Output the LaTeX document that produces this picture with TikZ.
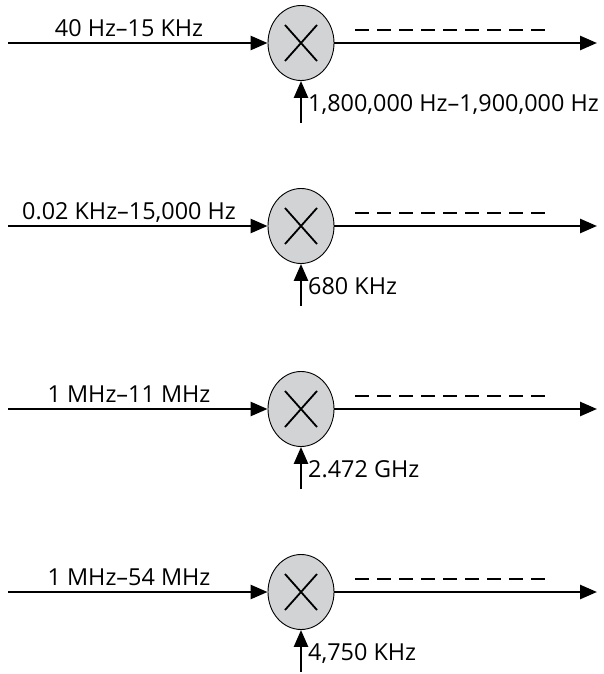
\documentclass[tikz,border=0pt]{standalone}
\usepackage{fontspec}
\setmainfont{Open Sans}
\usetikzlibrary{positioning,arrows.meta,shapes}
\definecolor{mixgray}{HTML}{D1D3D4}

\begin{document}
\begin{tikzpicture}[x=1pt,y=-1pt,
      >={Triangle[length=17pt,width=14pt]},
      sig/.style={line width=2.6pt},
      mixer/.style={draw,ellipse,fill=mixgray,line width=0.9pt,minimum width=66pt,minimum height=75pt,inner sep=0pt,
        path picture={\draw[line width=1.8pt]
          ([shift={(-16pt,-18pt)}]path picture bounding box.center) -- ([shift={(16pt,18pt)}]path picture bounding box.center)
          ([shift={(-16pt,18pt)}]path picture bounding box.center) -- ([shift={(16pt,-18pt)}]path picture bounding box.center);}},
      dashline/.style={line width=1.4pt,dash pattern=on 14pt off 8pt},
      lbl/.style={font=\fontsize{23.4}{27}\selectfont,inner sep=0pt}]
    \useasboundingbox (0,0) rectangle (604,674);
    % row 1
    \coordinate (in1) at (8,43);
    \node[mixer] (mix1) at (301,43) {};
    \coordinate (out1) at (597,43);
    \coordinate (lo1) at (301,123);
    \coordinate (da1) at (355,30);
    \coordinate (db1) at (545,30);
    \node[lbl,anchor=base] (rf1) at (129,36.5) {40 Hz–15 KHz};
    \node[lbl,anchor=base west] (fl1) at (308,111) {1,800,000 Hz–1,900,000 Hz};
    \draw[sig,->] (in1) -- (mix1);
    \draw[sig,->] (mix1) -- (out1);
    \draw[sig,->] (lo1) -- (mix1);
    \draw[dashline] (da1) -- (db1);
    % row 2
    \coordinate (in2) at (8,226);
    \node[mixer] (mix2) at (301,226) {};
    \coordinate (out2) at (597,226);
    \coordinate (lo2) at (301,306);
    \coordinate (da2) at (355,213);
    \coordinate (db2) at (545,213);
    \node[lbl,anchor=base] (rf2) at (129,219.5) {0.02 KHz–15,000 Hz};
    \node[lbl,anchor=base west] (fl2) at (308,294) {680 KHz};
    \draw[sig,->] (in2) -- (mix2);
    \draw[sig,->] (mix2) -- (out2);
    \draw[sig,->] (lo2) -- (mix2);
    \draw[dashline] (da2) -- (db2);
    % row 3
    \coordinate (in3) at (8,409);
    \node[mixer] (mix3) at (301,409) {};
    \coordinate (out3) at (597,409);
    \coordinate (lo3) at (301,489);
    \coordinate (da3) at (355,396);
    \coordinate (db3) at (545,396);
    \node[lbl,anchor=base] (rf3) at (129,402.5) {1 MHz–11 MHz};
    \node[lbl,anchor=base west] (fl3) at (308,477) {2.472 GHz};
    \draw[sig,->] (in3) -- (mix3);
    \draw[sig,->] (mix3) -- (out3);
    \draw[sig,->] (lo3) -- (mix3);
    \draw[dashline] (da3) -- (db3);
    % row 4
    \coordinate (in4) at (8,592);
    \node[mixer] (mix4) at (301,592) {};
    \coordinate (out4) at (597,592);
    \coordinate (lo4) at (301,672);
    \coordinate (da4) at (355,579);
    \coordinate (db4) at (545,579);
    \node[lbl,anchor=base] (rf4) at (129,585.5) {1 MHz–54 MHz};
    \node[lbl,anchor=base west] (fl4) at (308,660) {4,750 KHz};
    \draw[sig,->] (in4) -- (mix4);
    \draw[sig,->] (mix4) -- (out4);
    \draw[sig,->] (lo4) -- (mix4);
    \draw[dashline] (da4) -- (db4);
  \end{tikzpicture}
\end{document}
